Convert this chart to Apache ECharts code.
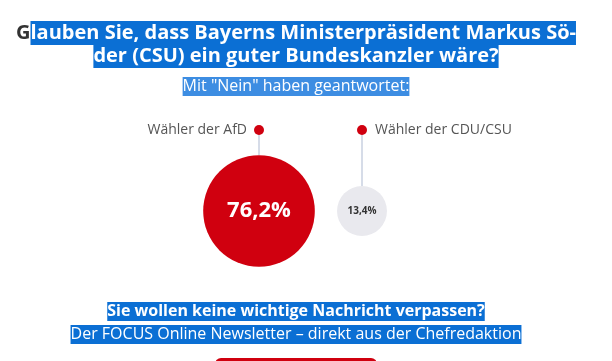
<!DOCTYPE html>
<html>
<head>
<meta charset="utf-8">
<script src="https://cdn.jsdelivr.net/npm/echarts@6/dist/echarts.min.js"></script>
<style>
html,body{margin:0;padding:0;background:#fff;}
#c{width:612px;height:361px;}
</style>
</head>
<body>
<div id="c"></div>
<script>
const categories = ['Wähler der AfD', 'Wähler der CDU/CSU'];
const neinValues = [76.2, 13.4];
const titleLines = ['Glauben Sie, dass Bayerns Ministerpräsident Markus Sö-', 'der (CSU) ein guter Bundeskanzler wäre?'];
const subtitleText = 'Mit "Nein" haben geantwortet:';
const footerLines = ['Sie wollen keine wichtige Nachricht verpassen?', 'Der FOCUS Online Newsletter – direkt aus der Chefredaktion'];

const FONT = '"Open Sans", "Noto Sans", sans-serif';
const SEL = '#0b6fd4';
const SEL2 = '#3d8de2';
const RED = '#d0000f';
const CX = 296;

const chart = echarts.init(document.getElementById('c'), null, {renderer: 'canvas'});

function selText(str, y, opts) {
  return {
    type: 'text', x: CX, y: y, silent: true,
    style: {
      text: str,
      font: opts.font,
      fill: '#fff',
      align: 'center',
      verticalAlign: 'middle',
      backgroundColor: opts.bg,
      padding: opts.padding,
      lineHeight: opts.lh
    }
  };
}

const option = {
  animation: false,
  grid: {left: 207.5, width: 206, top: 130, height: 81},
  xAxis: {type: 'category', data: categories, show: false},
  yAxis: {type: 'value', min: 0, max: 1, show: false},
  graphic: [
    {
      type: 'text', x: CX, y: 33, silent: true,
      style: {
        text: '{g|' + titleLines[0].charAt(0) + '}{h|' + titleLines[0].slice(1) + '}',
        font: 'bold 20px ' + FONT,
        align: 'center', verticalAlign: 'middle',
        rich: {
          g: {fill: '#333', font: 'bold 20px ' + FONT, lineHeight: 24, height: 24},
          h: {fill: '#fff', font: 'bold 20px ' + FONT, backgroundColor: SEL, lineHeight: 24, height: 24}
        }
      }
    },
    selText(titleLines[1], 56.5, {font: 'bold 20px ' + FONT, bg: SEL, padding: [1, 0, 0, 0], lh: 22}),
    selText(subtitleText, 86.5, {font: '16px ' + FONT, bg: SEL2, padding: [0, 0, 0, 0], lh: 19}),
    selText(footerLines[0], 311.5, {font: 'bold 16px ' + FONT, bg: SEL, padding: [0, 0, 0, 0], lh: 19}),
    selText(footerLines[1], 334.5, {font: '16px ' + FONT, bg: SEL, padding: [0, 0, 0, 0], lh: 19}),
    {
      type: 'rect', silent: true,
      shape: {x: 215, y: 358, width: 162, height: 30, r: 6},
      style: {fill: RED}
    }
  ],
  series: [{
    type: 'custom',
    data: categories.map((c, i) => [i, neinValues[i]]),
    renderItem: function (params, api) {
      const idx = api.value(0);
      const v = api.value(1);
      const center = api.coord([idx, 0]);
      const dot = api.coord([idx, 1]);
      const r = (5.4 + 12.17 * Math.sqrt(v)) / 2;
      const big = params.dataIndex === 0;
      const left = params.dataIndex === 0;
      const fs = Math.round(r * 0.4);
      return {
        type: 'group',
        children: [
          {type: 'line', shape: {x1: dot[0], y1: dot[1], x2: center[0], y2: center[1] - r}, style: {stroke: '#d6dce8', lineWidth: 2}},
          {type: 'circle', shape: {cx: center[0], cy: center[1], r: r}, style: {fill: big ? RED : '#e9e9ee'}},
          {type: 'circle', shape: {cx: dot[0], cy: dot[1], r: 5}, style: {fill: RED}},
          {type: 'text', x: left ? dot[0] - 12 : dot[0] + 13, y: dot[1], style: {
            text: categories[idx], font: '14px ' + FONT, fill: '#555',
            align: left ? 'right' : 'left', verticalAlign: 'middle'}},
          {type: 'text', x: center[0], y: center[1], style: {
            text: v.toFixed(1).replace('.', ',') + '%', font: 'bold ' + fs + 'px ' + FONT,
            fill: big ? '#fff' : '#333', align: 'center', verticalAlign: 'middle'}}
        ]
      };
    }
  }]
};
chart.setOption(option);
</script>
</body>
</html>
